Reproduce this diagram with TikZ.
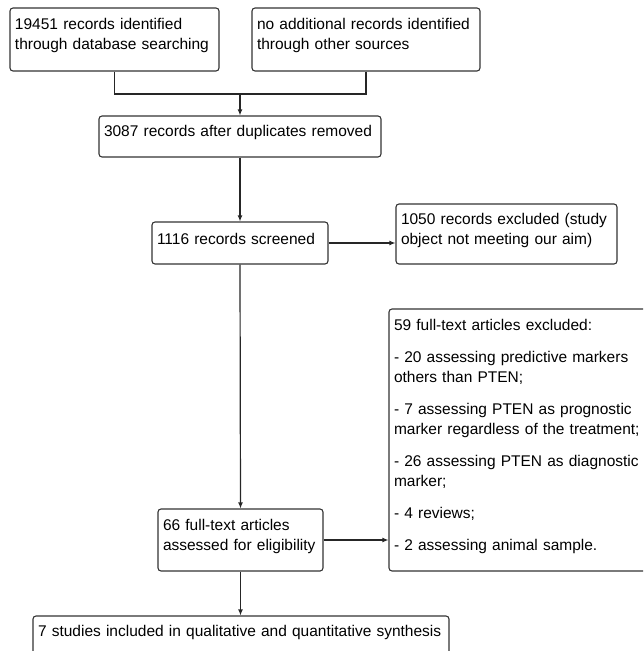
\documentclass[tikz,border=0pt]{standalone}
\usepackage{fontspec}
\setmainfont{Liberation Sans}
\usetikzlibrary{arrows.meta}

\begin{document}
\begin{tikzpicture}[x=1pt,y=-1pt,>={Latex[length=6pt,width=5pt]},
 stage/.style={draw=black!80,line width=1.1pt,rounded corners=3pt,align=left,inner xsep=5pt,inner ysep=3pt,
  font=\fontsize{15.5}{20}\selectfont,execute at end node={\endgraf\vspace{8pt}}},
 flow/.style={->,draw=black!85,line width=1.2pt},
 joint/.style={draw=black!85,line width=1.2pt}]
\clip (0,0) rectangle (643,651);
\node[stage,text width=199pt,minimum height=63pt] (ident) at (114.5,39.5) {19451 records identified\\through database searching};
\node[stage,text width=218pt,minimum height=63pt] (other) at (366,39.5) {no additional records identified\\through other sources};
\node[stage,text width=272pt,minimum height=41pt] (dedup) at (240,136.5) {3087 records after duplicates removed};
\node[stage,text width=166pt,minimum height=42pt] (screen) at (240,243) {1116 records screened};
\node[stage,text width=211pt,minimum height=60pt] (excl) at (506.5,234) {1050 records excluded (study\\object not meeting our aim)};
\node[stage,text width=261pt,minimum height=262pt] (fullx) at (524.5,440) {59 full-text articles excluded:\\[12pt]- 20 assessing predictive markers\\others than PTEN;\\[12pt]- 7 assessing PTEN as prognostic\\marker regardless of the treatment;\\[12pt]- 26 assessing PTEN as diagnostic\\marker;\\[12pt]- 4 reviews;\\[12pt]- 2 assessing animal sample.};
\node[stage,text width=155pt,minimum height=62pt] (elig) at (240.5,540) {66 full-text articles\\assessed for eligibility};
\node[stage,text width=406pt,minimum height=41pt] (incl) at (241,636.5) {7 studies included in qualitative and quantitative synthesis};
\coordinate (join) at (240,94);
\draw[joint] (ident.south) |- (join);
\draw[joint] (other.south) |- (join);
\draw[flow] (join) -- (dedup.north);
\draw[flow] (dedup.south) -- (screen.north);
\draw[flow] (screen.east) -- (screen.east -| excl.west);
\draw[flow] (screen.south) -- (elig.north);
\draw[flow] (elig.east) -- (elig.east -| fullx.west);
\draw[flow] (elig.south) -- (elig.south |- incl.north);
\end{tikzpicture}
\end{document}
